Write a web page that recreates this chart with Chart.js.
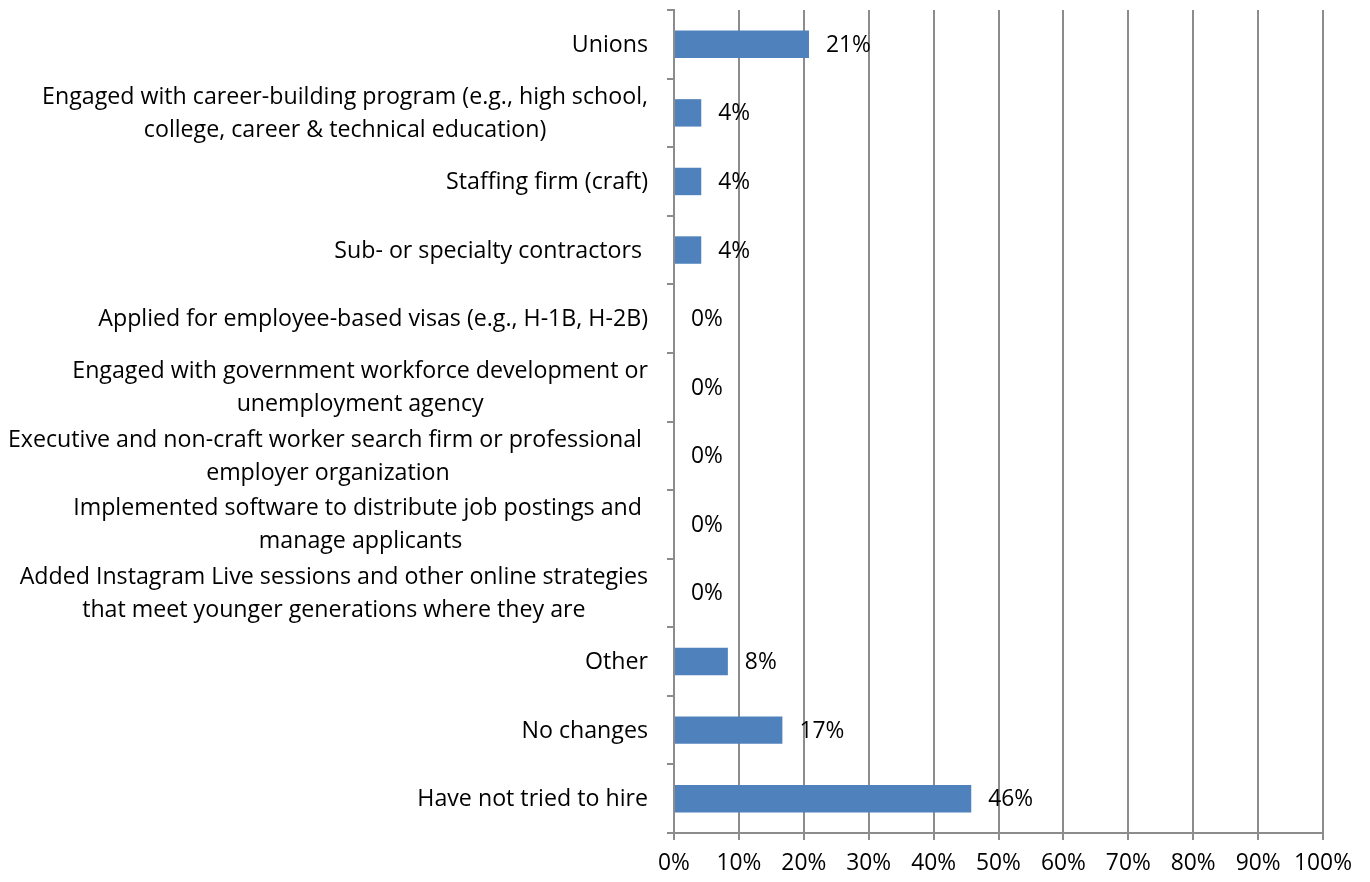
<!DOCTYPE html>
<html>
<head>
<meta charset="utf-8">
<script src="https://cdn.jsdelivr.net/npm/chart.js@4/dist/chart.umd.min.js"></script>
<style>
html,body{margin:0;padding:0;background:#fff;}
#c{display:block;}
</style>
</head>
<body>
<canvas id="c" width="1370" height="882"></canvas>
<script>
const categories = [
  ["Unions"],
  ["Engaged with career-building program (e.g., high school,", "college, career & technical education)"],
  ["Staffing firm (craft)"],
  ["Sub- or specialty contractors "],
  ["Applied for employee-based visas (e.g., H-1B, H-2B)"],
  ["Engaged with government workforce development or", "unemployment agency"],
  ["Executive and non-craft worker search firm or professional ", "employer organization"],
  ["Implemented software to distribute job postings and ", "manage applicants"],
  ["Added Instagram Live sessions and other online strategies", "that meet younger generations where they are"],
  ["Other"],
  ["No changes"],
  ["Have not tried to hire"]
];
const values = [20.8, 4.2, 4.2, 4.2, 0, 0, 0, 0, 0, 8.3, 16.7, 45.8];
const valueLabels = ["21%", "4%", "4%", "4%", "0%", "0%", "0%", "0%", "0%", "8%", "17%", "46%"];
const xTicks = [0, 10, 20, 30, 40, 50, 60, 70, 80, 90, 100];

const FONT = "'Open Sans', Lato, sans-serif";
const FSIZE = 23.2;
const NSIZE = 22.8;
const GRID = '#8c8c8c';

const labelPlugin = {
  id: 'customLabels',
  afterDraw(chart) {
    const ctx = chart.ctx;
    const yScale = chart.scales.y;
    ctx.save();
    ctx.font = FSIZE + 'px ' + FONT;
    ctx.fillStyle = '#000';
    ctx.textBaseline = 'middle';
    ctx.textAlign = 'center';
    const right = chart.chartArea.left - 26;
    const lh = 33;
    categories.forEach((lines, i) => {
      const cy = yScale.getPixelForValue(i) + 1;
      let w = 0;
      lines.forEach(l => { w = Math.max(w, ctx.measureText(l).width); });
      const cx = right - w / 2;
      const n = lines.length;
      lines.forEach((l, k) => {
        ctx.fillText(l, cx, cy + (k - (n - 1) / 2) * lh);
      });
    });
    const meta = chart.getDatasetMeta(0);
    ctx.font = NSIZE + 'px ' + FONT;
    ctx.textAlign = 'left';
    meta.data.forEach((bar, i) => {
      ctx.fillText(valueLabels[i], bar.x + 17, bar.y + 1);
    });
    ctx.restore();
  }
};

new Chart(document.getElementById('c'), {
  type: 'bar',
  data: {
    labels: categories.map(l => l.join(' ')),
    datasets: [{
      data: values,
      backgroundColor: '#4F81BD',
      borderWidth: 0,
      barPercentage: 0.4,
      categoryPercentage: 1.0
    }]
  },
  options: {
    indexAxis: 'y',
    responsive: false,
    animation: false,
    layout: { padding: { left: 0, right: 47, top: 10, bottom: 0 } },
    plugins: { legend: { display: false }, tooltip: { enabled: false } },
    scales: {
      y: {
        type: 'category',
        offset: true,
        grid: { display: true, drawOnChartArea: false, drawTicks: true, tickLength: 7, color: GRID, lineWidth: 2, offset: true },
        border: { display: true, color: GRID, width: 2 },
        ticks: { display: false },
        afterFit(scale) { scale.width = 674; }
      },
      x: {
        type: 'linear',
        min: 0,
        max: 100,
        afterBuildTicks(scale) { scale.ticks = xTicks.map(v => ({ value: v })); },
        grid: { display: true, drawOnChartArea: true, drawTicks: true, tickLength: 7, color: GRID, lineWidth: 2 },
        border: { display: true, color: GRID, width: 2 },
        ticks: {
          color: '#000',
          font: { family: FONT, size: NSIZE },
          padding: 10,
          maxRotation: 0,
          autoSkip: false,
          callback: v => v + '%'
        },
        afterFit(scale) { scale.height = 49; }
      }
    }
  },
  plugins: [labelPlugin]
});
</script>
</body>
</html>
